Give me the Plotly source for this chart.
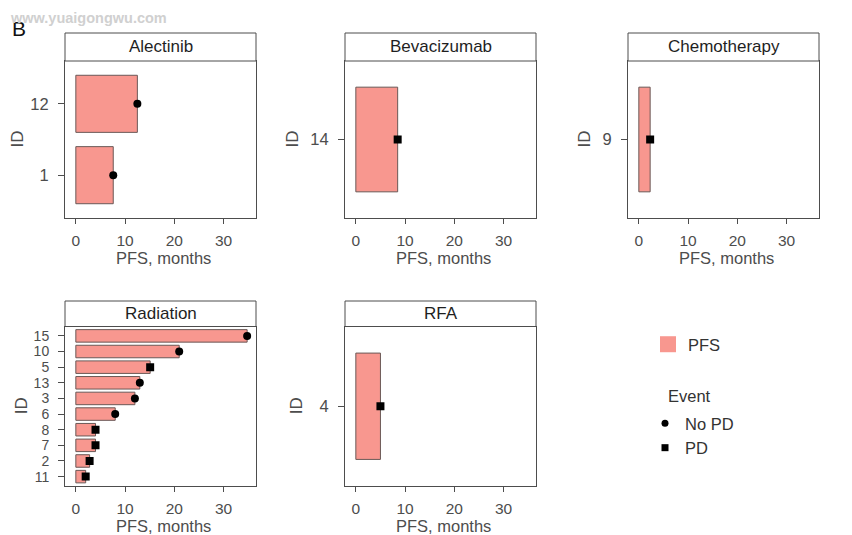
import plotly.graph_objects as go

# ---------------- data ----------------
alectinib_ids = ["12", "1"]
alectinib_pfs = [12.5, 7.6]
alectinib_event = ["No PD", "No PD"]

bevacizumab_ids = ["14"]
bevacizumab_pfs = [8.5]
bevacizumab_event = ["PD"]

chemotherapy_ids = ["9"]
chemotherapy_pfs = [2.3]
chemotherapy_event = ["PD"]

radiation_ids = ["15", "10", "5", "13", "3", "6", "8", "7", "2", "11"]
radiation_pfs = [34.8, 21.0, 15.1, 13.0, 12.0, 8.0, 4.0, 4.0, 2.8, 2.0]
radiation_event = ["No PD", "No PD", "PD", "No PD", "No PD", "No PD", "PD", "PD", "PD", "PD"]

rfa_ids = ["4"]
rfa_pfs = [5.0]
rfa_event = ["PD"]

x_ticks = [0, 10, 20, 30]

panels = [
    ("Alectinib", alectinib_ids, alectinib_pfs, alectinib_event),
    ("Bevacizumab", bevacizumab_ids, bevacizumab_pfs, bevacizumab_event),
    ("Chemotherapy", chemotherapy_ids, chemotherapy_pfs, chemotherapy_event),
    ("Radiation", radiation_ids, radiation_pfs, radiation_event),
    ("RFA", rfa_ids, rfa_pfs, rfa_event),
]

# ---------------- layout geometry (page pixels) ----------------
PAGE_W, PAGE_H = 852, 535
OFF = 8                      # default body margin of the page
W, H = PAGE_W - OFF, PAGE_H - OFF
cols_px = [(65, 256), (345, 536), (628, 819)]
rows_px = [  # (strip top, plot top, plot bottom)
    (33, 61, 218),
    (301, 326.5, 486),
]
positions = [(0, 0), (0, 1), (0, 2), (1, 0), (1, 1)]

BAR_FILL = "#F8978F"
BAR_LINE = "#6a5856"
AX = "#4d4d4d"
FONT = "Liberation Sans, Arial, sans-serif"


def px_x(v):
    return (v - OFF) / W


def px_y(v):
    return (H - (v - OFF)) / H


fig = go.Figure()
shapes = []
annotations = []

for i, (name, ids, pfs, ev) in enumerate(panels):
    r, c = positions[i]
    k = "" if i == 0 else str(i + 1)
    xa, ya = "x" + k, "y" + k
    x0, x1 = cols_px[c]
    st, pt, pb = rows_px[r]

    fig.add_trace(go.Bar(
        x=pfs, y=ids, orientation="h", base=0,
        marker=dict(color=BAR_FILL, line=dict(color=BAR_LINE, width=1)),
        width=0.8, xaxis=xa, yaxis=ya, showlegend=False, hoverinfo="x+y",
    ))
    for evname, sym in (("No PD", "circle"), ("PD", "square")):
        xs = [p for p, e in zip(pfs, ev) if e == evname]
        ys = [d for d, e in zip(ids, ev) if e == evname]
        if xs:
            fig.add_trace(go.Scatter(
                x=xs, y=ys, mode="markers",
                marker=dict(symbol=sym, color="black", size=8),
                xaxis=xa, yaxis=ya, showlegend=False,
            ))

    cats = list(reversed(ids))
    ytick_size = 14 if len(cats) > 4 else 16.5
    fig.layout["xaxis" + k] = dict(
        domain=[px_x(x0), px_x(x1)], anchor=ya,
        range=[-2.2, 36.6], tickvals=x_ticks, ticks="outside", ticklen=5,
        tickcolor=AX, showline=True, linecolor=AX, linewidth=1, mirror=True,
        showgrid=False, zeroline=False, ticklabelstandoff=3,
        tickfont=dict(family=FONT, size=15.5, color="#4d4d4d"),
    )
    fig.layout["yaxis" + k] = dict(
        domain=[px_y(pb), px_y(pt)], anchor=xa,
        type="category", categoryorder="array", categoryarray=cats,
        tickmode="array", tickvals=cats, ticktext=cats,
        range=[-0.6, len(cats) - 1 + 0.6], ticks="outside", ticklen=6,
        tickcolor=AX, showline=True, linecolor=AX, linewidth=1, mirror=True,
        showgrid=False, zeroline=False, ticklabelstandoff=6,
        tickfont=dict(family=FONT, size=ytick_size, color="#4d4d4d"),
    )

    # strip
    shapes.append(dict(type="rect", xref="paper", yref="paper",
                       x0=px_x(x0), x1=px_x(x1), y0=px_y(pt), y1=px_y(st),
                       line=dict(color=AX, width=1), fillcolor="white"))
    annotations.append(dict(text=name, xref="paper", yref="paper",
                            x=px_x((x0 + x1) / 2), y=px_y((st + pt) / 2),
                            showarrow=False, xanchor="center", yanchor="middle",
                            font=dict(family=FONT, size=17, color="#1f1f1f")))
    # x title
    annotations.append(dict(text="PFS, months", xref="paper", yref="paper",
                            x=px_x((x0 + x1) / 2 + 3), y=px_y(pb + 40),
                            showarrow=False, xanchor="center", yanchor="middle",
                            font=dict(family=FONT, size=16.5, color="#4d4d4d")))

# y titles "ID"
id_title_x = [17, 292, 584, 21, 296]
for i, xpos in enumerate(id_title_x):
    r, c = positions[i]
    st, pt, pb = rows_px[r]
    annotations.append(dict(text="ID", xref="paper", yref="paper",
                            x=px_x(xpos), y=px_y((pt + pb) / 2), textangle=-90,
                            showarrow=False, xanchor="center", yanchor="middle",
                            font=dict(family=FONT, size=17, color="#4d4d4d")))

# panel letter and watermark
annotations.append(dict(text="B", xref="paper", yref="paper", x=px_x(10), y=px_y(29),
                        showarrow=False, xanchor="left", yanchor="middle",
                        font=dict(family=FONT, size=21, color="#111111")))
annotations.append(dict(text="<b>www.yuaigongwu.com</b>", xref="paper", yref="paper",
                        x=px_x(8), y=px_y(8), showarrow=False, xanchor="left",
                        yanchor="top",
                        font=dict(family=FONT, size=14.5, color="#d0d0d0")))
# legend group title
annotations.append(dict(text="Event", xref="paper", yref="paper", x=px_x(666), y=px_y(396),
                        showarrow=False, xanchor="left", yanchor="middle",
                        font=dict(family=FONT, size=16.5, color="#333333")))

# legend-only traces
fig.add_trace(go.Scatter(x=[None], y=[None], mode="markers", name="PFS",
                         marker=dict(symbol="square", color=BAR_FILL, size=18),
                         legend="legend"))
fig.add_trace(go.Scatter(x=[None], y=[None], mode="markers", name="No PD",
                         marker=dict(symbol="circle", color="black", size=7),
                         legend="legend2"))
fig.add_trace(go.Scatter(x=[None], y=[None], mode="markers", name="PD",
                         marker=dict(symbol="square", color="black", size=7),
                         legend="legend2"))

fig.update_layout(
    width=W, height=H, margin=dict(l=0, r=0, t=0, b=0),
    paper_bgcolor="white", plot_bgcolor="white",
    bargap=0.2, shapes=shapes, annotations=annotations,
    legend=dict(x=px_x(648), y=px_y(327), xanchor="left", yanchor="top",
                bgcolor="rgba(0,0,0,0)",
                font=dict(family=FONT, size=16.5, color="#333333"),
                itemsizing="trace"),
    legend2=dict(x=px_x(645), y=px_y(406), xanchor="left", yanchor="top",
                 bgcolor="rgba(0,0,0,0)", tracegroupgap=0,
                 font=dict(family=FONT, size=16.5, color="#333333"),
                 itemsizing="trace"),
    font=dict(family=FONT),
)

fig.write_html("out.html")
